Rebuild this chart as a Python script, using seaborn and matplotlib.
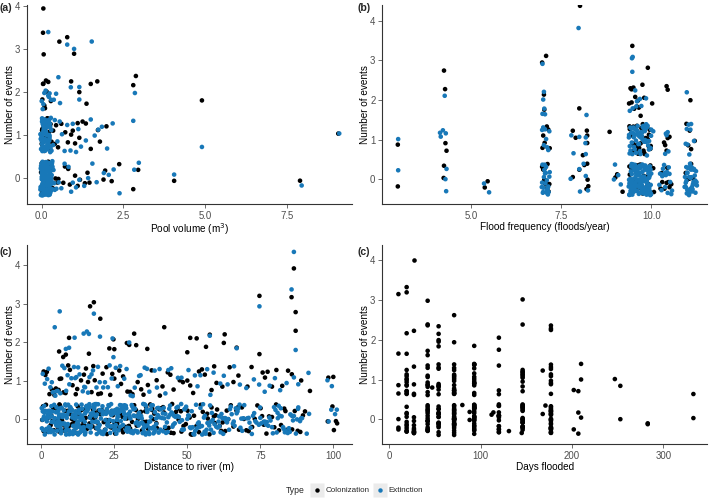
import numpy as np
import pandas as pd
import seaborn as sns
import matplotlib
matplotlib.use("Agg")
import matplotlib.pyplot as plt
from matplotlib.lines import Line2D
from matplotlib.legend_handler import HandlerTuple

# ---------------- data ----------------
types = ["Colonization", "Extinction"]
colors = {"Colonization": "#000000", "Extinction": "#1878B8"}

# (a) pool volume (m3) of each pool, grouped by number of events
a_col_0 = [0.01, 0.05, 0.1, 0.14, 0.2, 0.03, 0.08, 0.17, 0.24, 0.12, 0.06, 0.22, 0.28, 0.15, 0.02, 0.19,
           0.3, 0.09, 0.0, 0.04, 0.07, 0.11, 0.16, 0.18, 0.21, 0.25, 0.27, 0.32, -0.02, 0.13,
           0.34, 0.42, 0.48, 0.51, 0.66, 0.71, 0.81, 0.86, 1.02, 1.1, 1.17, 1.32, 1.4, 1.46,
           1.89, 1.94, 2.14, 2.37, 2.8, 2.95, 4.05, 7.9]
a_ext_0 = [0.0, 0.02, 0.05, 0.01, 0.08, 0.03, 0.12, 0.06, 0.15, 0.04, 0.1, 0.18, 0.07, 0.02, 0.13, 0.21,
           0.09, 0.0, 0.16, 0.05, 0.24, 0.11, 0.03, 0.19, 0.08, 0.27, 0.14, 0.01, 0.22, 0.06, 0.17, 0.1,
           0.04, 0.29, 0.12, 0.2, 0.07, 0.02, 0.25, 0.15, 0.09, 0.31, 0.05, 0.18, 0.13, 0.0, 0.23, 0.08,
           0.11, 0.03, 0.28, 0.16, 0.06, 0.21, 0.1, 0.14, 0.04, 0.26, 0.19, 0.07, 0.01, 0.12, 0.33, 0.17,
           0.09, 0.24, 0.05, 0.15, 0.02, 0.2,
           -0.04, -0.03, -0.02, -0.01, 0.005, 0.015, 0.025, 0.035, 0.045, 0.055, 0.065, 0.075, 0.085,
           0.095, 0.105, 0.115, 0.125, 0.135, 0.145, 0.155, 0.165, 0.175, 0.185, 0.195, 0.205, 0.215,
           0.225, 0.235, 0.245, 0.255, 0.265, 0.275, 0.285, 0.295, 0.305, 0.315, 0.325, -0.035, -0.025,
           -0.015, 0.0, 0.02, 0.04, 0.06, 0.08, 0.1, 0.12, 0.14, 0.16, 0.18, 0.2, 0.22, 0.24, 0.26,
           0.28, 0.3, 0.32, 0.11, 0.07, 0.03,
           0.36, 0.4, 0.45, 0.38, 0.52, 0.6, 0.7, 0.82, 0.9, 0.95,
           1.05, 1.15, 1.3, 1.42, 1.55, 1.68, 1.9, 2.05, 2.2, 2.38, 2.83, 2.97, 4.05, 7.95]
a_col_1 = [0.02, 0.06, 0.1, 0.15, 0.19, 0.04, 0.12, 0.23, 0.08, 0.17, 0.27, 0.01, 0.14, 0.21, 0.3,
           0.0, 0.05, 0.09, 0.13, 0.18, 0.22, 0.25, 0.03, 0.11, 0.35,
           0.4, 0.44, 0.5, 0.6, 0.72, 0.8, 0.9, 0.95, 1.02, 1.1, 1.15, 1.25, 1.35, 1.5, 1.72, 1.78,
           1.98, 9.07]
a_ext_1 = [0.0, 0.03, 0.07, 0.11, 0.15, 0.02, 0.19, 0.05, 0.09, 0.13, 0.23, 0.01, 0.17, 0.06, 0.26, 0.1,
           0.04, 0.21, 0.14, 0.08, 0.29, 0.0, 0.12, 0.18, 0.03, 0.24, 0.16, 0.07, 0.2, 0.11, 0.05, 0.27,
           0.02, 0.15, 0.09, 0.22, 0.13, 0.06,
           -0.04, -0.02, 0.0, 0.02, 0.04, 0.06, 0.08, 0.1, 0.12, 0.14, 0.16, 0.18, 0.2, 0.22, 0.24,
           0.26, 0.28, 0.3, -0.03, -0.01, 0.01, 0.03, 0.05, 0.07, 0.09, 0.11, 0.13, 0.15, 0.17, 0.19,
           0.21, 0.23, 0.25, 0.01, 0.06, 0.12, 0.17, 0.22, 0.0, 0.1,
           0.35, 0.4, 0.48, 0.55, 0.62, 0.7, 0.78, 0.88, 0.95, 1.05,
           1.12, 1.2, 1.35, 1.5, 1.62, 1.73, 1.84, 2.0, 2.17, 2.8, 4.9, 9.1]
a_col_2 = [0.02, 0.05, 0.1, 0.15, 0.2, 0.04, 0.08, 0.13, 0.28, 0.9, 1.15, 1.37, 1.5, 1.7, 2.8, 2.88, 4.9]
a_ext_2 = [0.0, 0.05, 0.12, 0.2, 0.22, 0.24, 0.29, 0.03, 0.08, 0.37, 0.44, 0.51, 0.56, 0.89, 1.15, 1.15,
           2.85]
a_col_3 = [0.04, 0.06, 0.54, 0.78, 0.99]
a_ext_3 = [0.2, 0.78, 0.99, 1.53]
a_col_4 = [0.05]
a_ext_4 = [0.05]

# (b) flood frequency (floods/year)
b_col_0 = [2.97, 4.25, 4.24, 5.38, 5.46, 6.97, 7.0, 7.03, 7.06, 7.09, 7.12, 7.15, 6.99, 7.05, 7.11, 7.17,
           7.82, 8.0, 8.14, 8.22, 8.25, 8.2, 8.23, 9.0, 9.05, 9.2, 9.4, 9.46, 9.52, 9.58, 9.64, 9.7,
           9.76, 9.82, 9.88, 9.94, 9.55, 9.67, 9.79, 9.91, 9.43, 9.39, 9.45, 9.51, 9.57, 9.63, 9.69,
           9.75, 9.81, 9.87, 9.97, 10.05, 10.07, 10.25, 10.3, 10.38, 10.42, 10.5, 10.55, 10.36, 10.44,
           10.28, 10.47, 10.95, 11.05, 11.15, 11.2, 10.99, 11.1]
b_ext_0 = [2.98, 4.32, 4.31, 4.29, 5.36, 5.5, 6.97, 6.99, 7.01, 7.03, 7.05, 7.07, 7.09, 7.11, 7.13, 7.15,
           7.0, 7.04, 7.08, 7.12, 6.96, 6.98, 7.02, 7.06, 7.1, 7.14, 7.17, 7.18,
           7.76, 8.0, 8.02, 8.18, 8.12, 8.24, 8.96, 9.08, 9.15, 8.99,
           9.38, 9.41, 9.44, 9.47, 9.5, 9.53, 9.56, 9.59, 9.62, 9.65, 9.68, 9.71, 9.74, 9.77, 9.8,
           9.83, 9.86, 9.89, 9.92, 9.95, 9.98, 9.4, 9.45, 9.49, 9.54, 9.58, 9.63, 9.67, 9.72, 9.76,
           9.81, 9.85, 9.9, 9.94, 9.99, 9.39, 9.43, 9.48, 9.52, 9.57, 9.61, 9.66, 9.7, 9.75, 9.79,
           9.84, 9.88, 9.93, 9.97, 9.42, 9.51, 9.6, 9.69, 9.78, 9.87, 9.96,
           9.37, 9.385, 9.395, 9.405, 9.415, 9.425, 9.435, 9.445, 9.455, 9.465, 9.475, 9.485, 9.495,
           9.505, 9.515, 9.525, 9.535, 9.545, 9.555, 9.565, 9.575, 9.585, 9.595, 9.605, 9.615, 9.625,
           9.635, 9.645, 9.655, 9.665, 9.675, 9.685, 9.695, 9.705, 9.715, 9.725, 9.735, 9.745, 9.755,
           9.765, 9.775, 9.785, 9.795, 9.805, 9.815, 9.825, 9.835, 9.845, 9.855, 9.865, 9.875, 9.885,
           9.895, 9.905, 9.915, 9.925, 9.935, 9.945, 9.955, 9.965, 9.975, 9.985, 9.995,
           10.3, 10.35, 10.4, 10.45, 10.5, 10.38, 10.32, 10.55, 10.22, 10.24, 10.28, 10.33, 10.37,
           10.43, 10.48, 10.52, 10.57,
           10.92, 10.95, 10.98, 11.0, 11.02, 11.05, 11.08, 11.1, 11.12, 11.15, 11.18, 11.2, 10.94,
           10.97, 11.01, 11.04, 11.07, 11.11, 11.14, 11.17, 11.22, 11.25, 10.93, 10.955, 10.965,
           10.985, 10.995, 11.015, 11.035, 11.045, 11.065, 11.085, 11.095, 11.115, 11.135, 11.155,
           11.165, 11.185, 11.205, 11.215, 11.235, 11.26]
b_col_1 = [2.97, 4.29, 4.32, 7.0, 7.04, 7.1, 7.14, 7.18, 6.98, 7.82, 7.9, 8.1, 8.22, 8.22, 8.21, 8.84,
           9.39, 9.44, 9.5, 9.56, 9.61, 9.67, 9.72, 9.78, 9.84, 9.9, 9.95, 9.48, 9.59, 9.7, 9.81,
           9.92, 9.42, 9.63, 9.76, 9.87, 9.98, 9.4, 9.47, 9.53, 9.6, 9.66, 9.73, 9.8, 9.86, 9.93, 9.97,
           10.38, 10.45, 10.5, 10.42, 10.35, 10.97, 11.02, 11.06, 11.1, 11.2]
b_ext_1 = [2.98, 4.16, 4.14, 4.22, 4.3, 6.97, 7.0, 7.02, 7.05, 7.08, 7.11, 7.14, 7.17, 7.78, 7.84, 8.0,
           8.18, 8.17, 8.18, 9.38, 9.42, 9.47, 9.51, 9.55, 9.6, 9.64, 9.69, 9.73, 9.78, 9.82, 9.87,
           9.91, 9.96, 9.4, 9.45, 9.5, 9.57, 9.62, 9.68, 9.75, 9.8, 9.85, 9.93, 9.99, 9.53, 9.66,
           9.71, 9.89, 9.44, 9.375, 9.415, 9.455, 9.495, 9.535, 9.575, 9.615, 9.655, 9.695, 9.735,
           9.775, 9.815, 9.855, 9.895, 9.935, 9.975, 9.395, 9.515, 9.635, 9.755, 9.875, 9.995,
           10.05, 10.4, 10.47, 10.38, 10.45, 10.42, 10.95, 11.0, 11.05, 11.1, 10.98, 11.03, 11.08, 11.18]
b_col_2 = [4.28, 7.03, 7.02, 8.0, 9.38, 9.42, 9.45, 9.5, 9.55, 9.6, 9.65, 9.7, 9.8, 9.45, 9.52, 9.62,
           9.75, 10.02, 10.42, 10.45, 11.08]
b_ext_2 = [4.27, 6.98, 7.0, 7.02, 7.03, 7.05, 8.2, 9.4, 9.48, 9.55, 9.6, 9.68, 9.72, 9.58, 9.85, 10.98]
b_col_3 = [4.25, 6.97, 7.08, 9.47, 9.9]
b_ext_3 = [6.98, 9.46, 9.47, 9.48]
b_col_4 = [8.02]
b_ext_4 = [7.98]

# (c) distance to river (m)
c_col_0 = [0.3, 0.8, 1.3, 1.6, 2.2, 2.7, 3.2, 3.4, 4.1, 4.6, 5.0, 5.5, 6.0, 6.4, 7.1, 7.4, 8.1, 8.3, 8.9,
           9.3, 9.7, 1.9, 3.8, 5.7, 6.7, 7.8, 9.0, 0.6,
           10.2, 10.7, 11.1, 11.8, 12.1, 12.8, 13.3, 13.6, 14.3, 14.8, 15.2, 15.6, 16.1, 16.7, 17.2,
           17.7, 18.3, 18.7, 19.2, 19.6, 11.5, 13.9, 16.3, 18.0, 19.8, 10.5, 14.6, 17.5,
           20.3, 20.8, 21.4, 21.8, 22.3, 22.7, 23.3, 23.8, 24.2, 24.7, 25.3, 25.8, 26.3, 26.7, 27.4,
           27.8, 28.3, 28.7, 29.2, 29.6, 21.1, 23.1, 25.1, 27.1, 29.4,
           30.4, 31.1, 31.8, 32.4, 33.1, 33.8, 34.5, 35.2, 35.9, 36.6, 37.3, 38.0, 38.7, 39.4, 30.8,
           32.7, 34.1, 36.0, 37.9, 39.6,
           40.4, 41.1, 42.0, 42.9, 43.6, 44.4, 45.3, 46.1, 47.0, 47.8, 48.7, 49.5, 41.7, 44.8, 48.0,
           50.1, 50.8, 51.6, 52.3, 53.1, 53.8, 54.6, 55.3, 56.1, 56.8, 57.6, 58.3, 59.1, 59.7, 51.2,
           54.0, 57.0, 59.4,
           60.2, 61.1, 62.1, 63.0, 64.0, 64.9, 65.8, 66.8, 67.7, 68.7, 69.4, 61.6, 63.5, 67.3,
           70.2, 71.0, 72.2, 73.1, 74.0, 75.1, 76.2, 77.1, 78.0, 79.0, 79.8, 75.6,
           80.4, 81.4, 82.1, 83.2, 84.1, 85.0, 85.9, 86.8, 87.8, 88.7, 89.6, 83.6,
           90.3, 98.1, 99.7, 100.2, 100.9, 101.3,
           1.0, 2.4, 4.3, 6.2, 8.6, 10.9, 12.5, 14.0, 16.5, 18.5, 20.6, 22.5, 24.5, 26.0, 28.0, 30.0,
           33.4, 35.6, 38.4, 42.4, 46.6]
c_ext_0 = [0.2, 0.5, 0.7, 1.0, 1.4, 1.5, 1.9, 2.1, 2.3, 2.8, 3.0, 3.3, 3.5, 3.9, 4.2, 4.4, 4.7, 5.1, 5.2,
           5.6, 5.9, 6.1, 6.5, 6.6, 7.0, 7.3, 7.5, 7.9, 8.2, 8.4, 8.7, 9.1, 9.2, 9.6, 9.9, 0.4, 0.9,
           1.2, 1.7, 2.5, 2.6, 3.1, 3.7, 4.0, 4.9, 5.4, 5.8, 6.3, 6.9, 7.2, 7.7, 8.0, 8.5, 8.9, 9.4,
           9.8, 1.1, 3.6, 6.8, 8.6,
           10.1, 10.3, 10.6, 10.9, 11.0, 11.4, 11.7, 11.9, 12.2, 12.3, 12.7, 13.0, 13.2, 13.5, 13.8,
           14.0, 14.4, 14.5, 14.9, 15.1, 15.3, 15.7, 16.0, 16.2, 16.6, 16.8, 17.1, 17.3, 17.6, 17.9,
           18.2, 18.4, 18.8, 19.0, 19.3, 19.5, 19.9, 10.4, 10.8, 11.2, 11.6, 12.0, 12.5, 12.9, 13.4,
           13.7, 14.2, 14.7, 15.0, 15.5, 15.9, 16.4, 16.9, 17.4, 17.8, 18.1, 18.6, 19.1, 19.7, 11.3,
           13.1, 15.4, 17.0, 18.9, 12.6,
           20.0, 20.4, 20.6, 21.0, 21.3, 21.5, 21.9, 22.2, 22.4, 22.8, 23.0, 23.4, 23.7, 23.9, 24.3,
           24.6, 24.8, 25.2, 25.5, 25.7, 26.1, 26.4, 26.6, 27.0, 27.3, 27.5, 27.9, 28.2, 28.4, 28.8,
           29.1, 29.3, 29.7, 20.2, 20.9, 21.7, 22.6, 23.2, 24.1, 25.0, 25.9, 26.8, 27.7, 28.6, 29.5,
           29.9, 21.2, 22.0, 23.6, 24.4, 26.2, 27.2, 28.0, 29.0, 25.4,
           30.2, 30.5, 30.9, 31.2, 31.6, 31.9, 32.3, 32.6, 33.0, 33.3, 33.7, 34.0, 34.4, 34.7, 35.1,
           35.4, 35.8, 36.1, 36.5, 36.8, 37.2, 37.5, 37.9, 38.2, 38.6, 38.9, 39.3, 39.7, 30.7, 31.4,
           32.1, 32.9, 33.5, 34.2, 35.0, 35.6, 36.3, 37.0, 37.7, 38.4, 39.1, 39.9, 31.0, 34.9, 37.3,
           40.2, 40.8, 41.3, 41.9, 42.4, 43.0, 43.5, 44.1, 44.6, 45.2, 45.7, 46.3, 46.8, 47.4, 47.9,
           48.5, 49.0, 49.6, 40.5, 41.6, 42.7, 43.8, 44.9, 46.0, 47.1, 48.2, 49.3, 42.1, 45.5, 48.8,
           50.3, 50.9, 51.5, 52.1, 52.7, 53.3, 53.9, 54.5, 55.1, 55.7, 56.3, 56.9, 57.5, 58.1, 58.7,
           59.3, 59.9, 50.6, 51.8, 53.0, 54.2, 55.4, 56.6, 57.8, 59.0, 52.4, 55.9, 58.4,
           60.4, 61.0, 61.7, 62.3, 63.0, 63.6, 64.3, 64.9, 65.6, 66.2, 66.9, 67.5, 68.2, 68.8, 69.5,
           60.7, 62.0, 63.3, 64.6, 65.9, 67.2, 68.5, 61.4, 64.0, 66.6,
           70.5, 71.3, 72.1, 72.9, 73.7, 74.5, 75.3, 76.1, 76.9, 77.7, 78.5, 79.3, 71.7, 73.3, 74.9,
           76.5, 78.1, 79.7,
           80.2, 80.9, 81.6, 82.3, 83.0, 83.7, 84.4, 85.1, 85.8, 86.5, 87.2, 87.9, 88.6, 89.3, 80.6,
           82.0, 83.4, 84.8, 86.2, 87.6, 89.0, 81.3,
           90.9, 91.7, 98.4, 99.3, 100.6, 101.2,
           0.15, 0.65, 1.25, 1.85, 2.45, 2.95, 3.45, 4.05, 4.55, 5.05, 5.65, 6.25, 6.75, 7.35, 7.85,
           8.35, 8.95, 9.45, 9.95, 10.35, 10.85, 11.45, 11.95, 12.45, 12.85, 13.35, 13.95, 14.45,
           14.95, 15.45, 15.95, 16.45, 16.95, 17.45, 17.95, 18.45, 18.95, 19.45, 19.95, 20.45, 20.95,
           21.45, 21.95, 22.45, 22.95, 23.45, 23.95, 24.45, 24.95, 25.45, 25.95, 26.45, 26.95, 27.45,
           27.95, 28.45, 28.95, 29.45, 30.35, 30.95, 31.55, 32.15, 32.75, 33.35, 33.95, 34.55, 35.15,
           35.75, 36.35, 36.95, 37.55, 38.15, 38.75, 39.35, 40.1, 40.9, 41.7, 42.5, 43.3, 44.1, 44.9,
           46.5, 48.2, 50.0, 51.2, 53.6, 55.0, 56.0, 58.0, 60.9, 62.6, 65.2, 67.9, 69.2, 71.0, 72.5,
           75.0, 77.2, 79.0, 81.0, 82.8, 85.3, 88.0]
c_col_1 = [0.8, 1.9, 3.6, 4.5, 5.9, 6.8, 7.6, 8.3, 9.2, 10.7, 11.8, 13.6, 14.6, 16.0, 17.2, 18.3,
           19.5, 21.0, 22.3, 23.6, 25.0, 26.7, 28.0, 29.5, 31.2, 33.0, 35.0, 37.8, 39.5, 41.5, 43.3,
           45.3, 47.4, 50.0, 52.0, 54.0, 56.0, 58.3, 60.0, 62.0, 64.5, 67.5, 72.0, 75.8, 77.5, 79.0,
           80.5, 82.5, 84.5, 85.8, 89.0, 92.0, 98.3, 100.0,
           1.4, 2.8, 5.0, 6.3, 9.8, 12.3, 15.3, 17.8, 20.4, 24.3, 27.3, 30.4, 34.2, 36.5, 40.6, 44.2,
           48.5, 51.0, 55.0, 59.2, 65.8, 70.6, 76.6]
c_ext_1 = [1.2, 2.5, 3.1, 4.0, 4.8, 5.6, 6.5, 7.9, 9.0, 10.3, 11.2, 12.0, 13.1, 14.2, 15.0, 16.5, 17.7,
           18.9, 20.0, 21.2, 22.8, 24.1, 25.5, 27.0, 28.4, 30.6, 32.0, 33.5, 35.4, 37.0, 38.8, 40.5,
           42.5, 44.5, 46.8, 50.4, 52.6, 54.5, 56.8, 59.0, 61.3, 63.8, 66.0, 70.2, 74.6, 76.5, 78.2,
           80.0, 81.8, 84.0, 86.5, 88.0, 91.5, 98.0, 99.5,
           0.5, 2.0, 3.6, 5.2, 7.2, 8.5, 9.6, 11.6, 12.6, 14.7, 16.0, 17.2, 19.4, 21.8, 23.4, 26.2,
           29.2, 31.3, 34.0, 36.2, 39.6, 43.5, 48.0, 53.5, 57.9, 62.5, 68.0, 72.8]
c_col_2 = [6.1, 7.5, 8.4, 9.5, 16.3, 23.3, 24.7, 25.0, 29.3, 30.1, 31.8, 32.5, 36.3, 42.1, 50.0, 51.0,
           53.2, 56.4, 57.7, 62.8, 62.5, 66.9, 74.7, 87.1]
c_ext_2 = [4.6, 8.4, 9.5, 11.4, 14.5, 15.6, 16.3, 20.1, 24.4, 24.7, 30.1, 57.7, 66.9, 87.1]
c_col_3 = [16.7, 18.0, 20.2, 74.7, 85.7, 87.1]
c_ext_3 = [6.3, 18.0, 74.7, 85.7]
c_col_4 = [86.5]
c_ext_4 = [86.5]

# (d) days flooded: frequency table (colonization only)
d_days = [10, 19, 27, 42, 47, 54, 71, 80, 88, 93, 112, 114, 120, 131, 145, 146, 168, 171, 177,
          202, 207, 210, 247, 253, 283, 333]
d_n0 = [3, 11, 10, 17, 0, 17, 28, 1, 2, 26, 1, 1, 16, 1, 1, 20, 1, 1, 26, 1, 2, 1, 0, 1, 2, 1]
d_n1 = [2, 12, 4, 10, 1, 9, 17, 0, 0, 15, 0, 0, 3, 0, 0, 10, 1, 0, 9, 1, 1, 2, 1, 1, 0, 1]
d_n2 = [1, 2, 1, 4, 0, 5, 1, 0, 0, 1, 0, 0, 2, 0, 0, 1, 0, 0, 3, 0, 0, 0, 0, 0, 0, 0]
d_n3 = [1, 2, 0, 1, 0, 0, 1, 0, 0, 0, 0, 0, 0, 0, 0, 1, 0, 0, 0, 0, 0, 0, 0, 0, 0, 0]
d_n4 = [0, 0, 1, 0, 0, 0, 0, 0, 0, 0, 0, 0, 0, 0, 0, 0, 0, 0, 0, 0, 0, 0, 0, 0, 0, 0]


def frame(col_lists, ext_lists):
    # colonization rows first, extinction rows after (drawn on top, as in the reference)
    rows = []
    for t, lists in (("Colonization", col_lists), ("Extinction", ext_lists)):
        for n, xs in enumerate(lists):
            for x in xs:
                rows.append((x, n, t))
    return pd.DataFrame(rows, columns=["x", "n", "type"])


df_a = frame([a_col_0, a_col_1, a_col_2, a_col_3, a_col_4], [a_ext_0, a_ext_1, a_ext_2, a_ext_3, a_ext_4])
df_b = frame([b_col_0, b_col_1, b_col_2, b_col_3, b_col_4], [b_ext_0, b_ext_1, b_ext_2, b_ext_3, b_ext_4])
df_c = frame([c_col_0, c_col_1, c_col_2, c_col_3, c_col_4], [c_ext_0, c_ext_1, c_ext_2, c_ext_3, c_ext_4])
d_rows = []
for n, counts in enumerate([d_n0, d_n1, d_n2, d_n3, d_n4]):
    for day, k in zip(d_days, counts):
        d_rows += [(day, n, "Colonization")] * k
df_d = pd.DataFrame(d_rows, columns=["x", "n", "type"])

# ---------------- style ----------------
sns.set_theme(style="ticks")
plt.rcParams["font.family"] = ["Liberation Sans", "DejaVu Sans"]

W, H = 709, 498
fig = plt.figure(figsize=(W / 100, H / 100), dpi=100)


def px_axes(left, top, right, bottom):
    return fig.add_axes([left / W, 1 - bottom / H, (right - left) / W, (bottom - top) / H])


panels = [
    (df_a, px_axes(27, 5, 352, 204), (-0.45, 9.49), (-0.6, 4.02), [0, 2.5, 5, 7.5],
     ["0.0", "2.5", "5.0", "7.5"], "Pool volume (m$^3$)", "(a)", (0, 3)),
    (df_b, px_axes(382.3, 5, 707, 204), (2.54, 11.54), (-0.624, 4.40), [5, 7.5, 10],
     ["5.0", "7.5", "10.0"], "Flood frequency (floods/year)", "(b)", (357, 3)),
    (df_c, px_axes(27, 245, 352, 444), (-4.9, 106.4), (-0.64, 4.52), [0, 25, 50, 75, 100],
     ["0", "25", "50", "75", "100"], "Distance to river (m)", "(c)", (0, 247)),
    (df_d, px_axes(382.3, 245, 707, 444), (-7.66, 347.9), (-0.62, 4.38), [0, 100, 200, 300],
     ["0", "100", "200", "300"], "Days flooded", "(c)", (357, 247)),
]

np.random.seed(7)
for df, ax, xlim, ylim, xt, xtl, xlabel, tag, tagpos in panels:
    hue_order = [t for t in types if t in set(df["type"])]
    sns.stripplot(data=df, x="x", y="n", hue="type", hue_order=hue_order, palette=colors,
                  orient="h", native_scale=True, jitter=0.4, size=3.3, linewidth=0,
                  legend=False, ax=ax)
    ax.set_xlim(*xlim)
    ax.set_ylim(*ylim)
    ax.set_xticks(xt)
    ax.set_xticklabels(xtl)
    ax.set_yticks([0, 1, 2, 3, 4])
    ax.set_yticklabels(["0", "1", "2", "3", "4"])
    ax.tick_params(axis="both", labelsize=6.9, labelcolor="#4D4D4D", color="#333333",
                   length=2.7, width=0.5, pad=2.2)
    for s in ("top", "right"):
        ax.spines[s].set_visible(False)
    for s in ("left", "bottom"):
        ax.spines[s].set_color("#333333")
        ax.spines[s].set_linewidth(0.8)
    ax.set_xlabel(xlabel, fontsize=7.2, color="black")
    ax.set_ylabel("Number of events", fontsize=7.2, color="black")
    bb = ax.get_position()
    axw = bb.width * W
    axh = bb.height * H
    ax.xaxis.set_label_coords(0.5, -17.5 / axh)
    ax.yaxis.set_label_coords(-12.5 / axw, 0.5)
    fig.text(tagpos[0] / W, 1 - tagpos[1] / H, tag, fontsize=7.6, fontweight="bold",
             ha="left", va="top")

# ---------------- legend ----------------
handles = []
for t in types:
    bg = Line2D([], [], marker="s", markersize=10, linestyle="none", markerfacecolor="#EBEBEB",
                markeredgecolor="none")
    dot = Line2D([], [], marker="o", markersize=3.2, linestyle="none", markerfacecolor=colors[t],
                 markeredgecolor="none")
    handles.append((bg, dot))
fig.text(286 / W, 1 - 490.5 / H, "Type", fontsize=6.2, ha="left", va="center")
fig.legend(handles, types, handler_map={tuple: HandlerTuple(ndivide=1)}, loc="center left",
           bbox_to_anchor=(311 / W, 1 - 490.5 / H), ncol=2, frameon=False, fontsize=5.8,
           handlelength=1.4, handletextpad=0.4, columnspacing=0.6, borderpad=0, borderaxespad=0)

fig.savefig("out.png", dpi=100)
